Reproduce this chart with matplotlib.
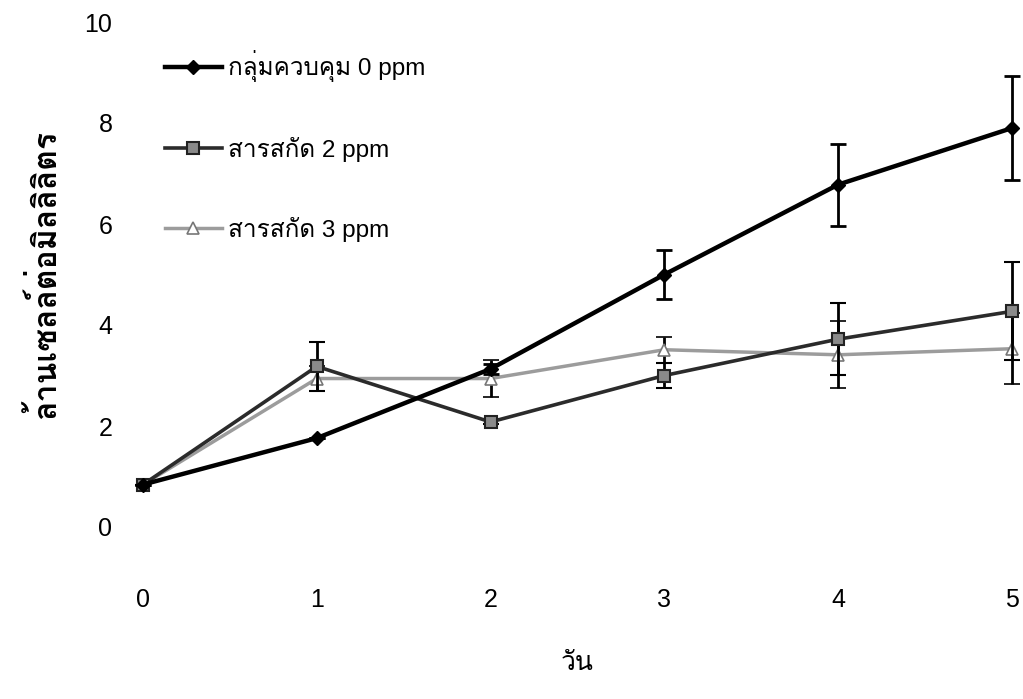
import matplotlib
matplotlib.use("Agg")
import matplotlib.pyplot as plt
from matplotlib import font_manager
from matplotlib.ft2font import FT2Font

# data
days = [0, 1, 2, 3, 4, 5]
control = [0.84, 1.76, 3.13, 5.0, 6.78, 7.9]
control_err = [0.0, 0.0, 0.1, 0.48, 0.81, 1.03]
ext2 = [0.84, 3.18, 2.08, 3.0, 3.72, 4.27]
ext2_err = [0.0, 0.49, 0.05, 0.25, 0.71, 0.97]
ext3 = [0.84, 2.94, 2.94, 3.51, 3.41, 3.53]
ext3_err = [0.0, 0.25, 0.37, 0.26, 0.66, 0.7]
labels = ["กลุ่มควบคุม 0 ppm", "สารสกัด 2 ppm", "สารสกัด 3 ppm"]
xlabel = "วัน"
ylabel = "ล้านเซลล์ต่อมิลลิลิตร"


def find_thai_font():
    # look for an installed font that has Thai glyphs
    for f in font_manager.fontManager.ttflist:
        try:
            cmap = FT2Font(f.fname).get_charmap()
        except Exception:
            continue
        if ord("ก") in cmap and ord("ล") in cmap:
            return f.name
    return None


thai = find_thai_font()
fams = ["Liberation Sans", "DejaVu Sans"]
if thai:
    fams = ["Liberation Sans", thai, "DejaVu Sans"]
plt.rcParams["font.family"] = fams

fig = plt.figure(figsize=(10.23, 6.99), dpi=100)
ax = fig.add_axes([143 / 1023, 172 / 699, (1012 - 143) / 1023, (527 - 22) / 699])

c1 = ax.errorbar(days, control, yerr=control_err, color="black", lw=3.2, marker="D", ms=7,
                 ecolor="black", elinewidth=2, capsize=6, capthick=2, clip_on=False,
                 zorder=5)
c2 = ax.errorbar(days, ext2, yerr=ext2_err, color="#2b2b2b", lw=2.6, marker="s", ms=8,
                 mfc="#8a8a8a", mec="#222222", mew=1.5, ecolor="black", elinewidth=2,
                 capsize=6, capthick=2, clip_on=False, zorder=4)
c3 = ax.errorbar(days, ext3, yerr=ext3_err, color="#9c9c9c", lw=2.5, marker="^", ms=8,
                 mfc="white", mec="#777777", mew=1.2, ecolor="black", elinewidth=2,
                 capsize=6, capthick=2, clip_on=False, zorder=3)

ax.set_xlim(0, 5)
ax.set_ylim(0, 10)
ax.set_xticks(days)
ax.set_yticks([0, 2, 4, 6, 8, 10])
for s in ax.spines.values():
    s.set_visible(False)
ax.tick_params(axis="both", length=0, labelsize=18)
ax.tick_params(axis="x", pad=44)
ax.tick_params(axis="y", pad=22)

ax.set_xlabel(xlabel, fontsize=19, labelpad=28)
ax.set_ylabel(ylabel, fontsize=23, fontweight="bold", labelpad=16)

# legend shows only the lines, no error bars
handles = [c1.lines[0], c2.lines[0], c3.lines[0]]
ax.legend(handles, labels, loc="upper left", bbox_to_anchor=(0.025, 0.944), frameon=False,
          fontsize=17.5, labelspacing=2.25, handlelength=2.35, handletextpad=0.25,
          borderpad=0, borderaxespad=0)

fig.savefig("out.png", dpi=100)
